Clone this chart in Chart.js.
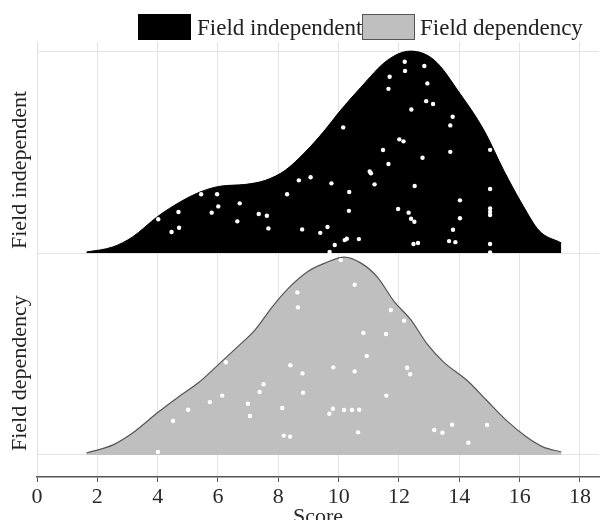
<!DOCTYPE html>
<html>
<head>
<meta charset="utf-8">
<script src="https://cdn.jsdelivr.net/npm/chart.js@4.4.1/dist/chart.umd.min.js"></script>
<style>
    html, body { margin: 0; padding: 0; background: #fff; overflow: hidden; }
    #wrap { width: 603px; height: 520px; position: relative; }
</style>
</head>
<body>
<div id="wrap"><canvas id="ridgeCanvas"></canvas></div>
<script>
// Groups, bottom to top (row index = y base)
const groups = ['Field dependency', 'Field independent'];
const xTicks = [0, 2, 4, 6, 8, 10, 12, 14, 16, 18];

// Density outline - Field independent (height relative to its row)
const indepDensX = [1.64, 2.51, 3.17, 3.99, 4.71, 5.37, 6.03, 6.92, 7.57, 8.23, 8.89, 9.55, 9.97, 10.73, 11.62, 12.38, 13.17, 14.02, 14.81, 15.47, 16.13, 16.65, 17.38];
const indepDensH = [0.005, 0.03, 0.08, 0.18, 0.25, 0.30, 0.33, 0.34, 0.36, 0.41, 0.50, 0.61, 0.69, 0.82, 0.955, 1.0, 0.955, 0.79, 0.61, 0.41, 0.23, 0.11, 0.05];

// Density outline - Field dependency
const depDensX = [1.64, 2.52, 3.18, 4.00, 4.71, 5.37, 6.03, 6.68, 7.23, 7.78, 8.33, 8.99, 9.54, 10.19, 10.74, 11.29, 11.84, 12.39, 12.93, 13.48, 14.25, 14.91, 15.57, 16.22, 16.77, 17.38];
const depDensH = [0.01, 0.05, 0.11, 0.21, 0.29, 0.36, 0.45, 0.54, 0.62, 0.73, 0.825, 0.91, 0.95, 0.98, 0.95, 0.88, 0.76, 0.67, 0.55, 0.46, 0.37, 0.27, 0.17, 0.09, 0.04, 0.015];

// Individual scores (x) with their jitter height inside the row (y)
const indepScoreX = [4.02, 4.46, 4.69, 4.71, 5.44, 5.79, 5.97, 6.01, 6.64, 6.72, 7.35, 7.62, 7.67, 8.29, 8.68, 8.79, 9.07, 9.39, 9.63, 9.76, 9.87, 9.70,
    12.19, 12.20, 12.84, 11.69, 12.94, 11.65, 12.90, 13.13, 12.41, 13.78, 13.70, 10.15, 12.01, 12.15, 11.47, 13.70, 15.02, 12.78, 11.65, 11.03, 11.07,
    11.19, 12.52, 15.02, 10.35, 14.02, 15.02, 15.02, 15.02, 10.34, 11.97, 12.32, 12.40, 12.51, 14.02, 13.79, 10.20, 10.27, 10.67, 12.48, 12.63, 13.66,
    13.87, 15.02, 15.02];
const indepScoreY = [0.167, 0.104, 0.203, 0.125, 0.291, 0.200, 0.291, 0.231, 0.157, 0.246, 0.193, 0.185, 0.122, 0.291, 0.360, 0.117, 0.375, 0.100, 0.129, 0.345, 0.040, 0.005,
    0.947, 0.902, 0.926, 0.873, 0.840, 0.813, 0.752, 0.738, 0.711, 0.675, 0.632, 0.622, 0.563, 0.553, 0.510, 0.501, 0.511, 0.472, 0.441, 0.404, 0.395,
    0.340, 0.332, 0.317, 0.302, 0.261, 0.221, 0.204, 0.188, 0.209, 0.218, 0.200, 0.170, 0.155, 0.172, 0.115, 0.064, 0.071, 0.069, 0.045, 0.050, 0.059,
    0.054, 0.045, 0.003];

const depScoreX = [8.63, 8.65, 6.26, 8.40, 9.82, 8.80, 7.51, 7.38, 8.82, 6.14, 5.73, 6.99, 5.01, 8.13, 7.06, 9.81, 9.69, 4.51, 8.18, 8.39, 4.01,
    10.07, 10.53, 11.73, 12.17, 10.82, 11.57, 10.93, 10.53, 12.27, 12.37, 11.58, 10.18, 10.44, 10.68, 10.64, 13.17, 13.44, 13.76, 14.92, 14.30];
const depScoreY = [0.805, 0.731, 0.459, 0.444, 0.434, 0.404, 0.350, 0.312, 0.308, 0.294, 0.262, 0.254, 0.224, 0.233, 0.193, 0.229, 0.204, 0.168, 0.096, 0.091, 0.015,
    0.965, 0.843, 0.718, 0.665, 0.604, 0.599, 0.490, 0.414, 0.432, 0.400, 0.294, 0.223, 0.223, 0.224, 0.112, 0.124, 0.110, 0.150, 0.149, 0.061];

const SERIF = "'Liberation Serif', 'Times New Roman', serif";

function toPoints(xs, ys, base) {
    return xs.map((x, i) => ({ x: x, y: base + ys[i] }));
}

// Legend drawn by hand so the box/text spacing matches the original
const legendPlugin = {
    id: 'ridgeLegend',
    afterDraw(chart) {
        const ctx = chart.ctx;
        ctx.save();
        ctx.font = '23px ' + SERIF;
        ctx.textBaseline = 'alphabetic';
        ctx.textAlign = 'left';
        ctx.lineWidth = 1;

        ctx.fillStyle = '#000';
        ctx.fillRect(138, 14, 53, 26);
        ctx.fillStyle = '#222';
        ctx.fillText(groups[1], 197, 35);

        ctx.fillStyle = '#bfbfbf';
        ctx.fillRect(362.5, 14.5, 52, 25);
        ctx.strokeStyle = '#555';
        ctx.strokeRect(362.5, 14.5, 52, 25);
        ctx.fillStyle = '#222';
        ctx.fillText(groups[0], 420, 35);
        ctx.restore();
    }
};

// Rotated group names, ending at each ridge baseline
const groupLabelPlugin = {
    id: 'groupLabels',
    afterDraw(chart) {
        const ctx = chart.ctx;
        const yScale = chart.scales.y;
        ctx.save();
        ctx.font = '22px ' + SERIF;
        ctx.fillStyle = '#222';
        ctx.textAlign = 'left';
        ctx.textBaseline = 'middle';
        groups.forEach((name, i) => {
            const py = yScale.getPixelForValue(i);
            ctx.save();
            ctx.translate(20, py - 4);
            ctx.rotate(-Math.PI / 2);
            ctx.fillText(name, 0, 0);
            ctx.restore();
        });
        ctx.restore();
    }
};

const ridgeChart = new Chart(document.getElementById('ridgeCanvas'), {
    type: 'scatter',
    data: {
        datasets: [
            {
                label: groups[1] + ' scores',
                data: toPoints(indepScoreX, indepScoreY, 1),
                pointRadius: 2.2,
                pointBackgroundColor: '#fff',
                pointBorderWidth: 0,
                order: 0
            },
            {
                label: groups[0] + ' scores',
                data: toPoints(depScoreX, depScoreY, 0),
                pointRadius: 2.2,
                pointBackgroundColor: '#fff',
                pointBorderWidth: 0,
                order: 0
            },
            {
                type: 'line',
                label: groups[1],
                data: toPoints(indepDensX, indepDensH, 1),
                borderColor: '#000',
                borderWidth: 1,
                backgroundColor: '#000',
                fill: { value: 1 },
                pointRadius: 0,
                cubicInterpolationMode: 'monotone',
                order: 1
            },
            {
                type: 'line',
                label: groups[0],
                data: toPoints(depDensX, depDensH, 0),
                borderColor: '#555',
                borderWidth: 1.2,
                backgroundColor: '#bfbfbf',
                fill: { value: 0 },
                pointRadius: 0,
                cubicInterpolationMode: 'monotone',
                order: 1
            }
        ]
    },
    options: {
        responsive: true,
        maintainAspectRatio: false,
        animation: false,
        layout: { padding: { left: 37, right: 0, top: 42, bottom: 0 } },
        plugins: {
            legend: { display: false },
            tooltip: { enabled: false }
        },
        scales: {
            x: {
                type: 'linear',
                min: 0,
                max: 18.63,
                afterBuildTicks: (scale) => {
                    scale.ticks = xTicks.map(v => ({ value: v }));
                },
                afterFit: (scale) => { scale.height = 43; },
                ticks: {
                    font: { family: SERIF, size: 22 },
                    color: '#2a2a2a',
                    padding: 2,
                    maxRotation: 0
                },
                grid: {
                    color: '#e3e3e3',
                    lineWidth: 1,
                    tickColor: '#555',
                    tickLength: 5
                },
                border: { display: true, color: '#555', width: 1.5 },
                title: {
                    display: true,
                    text: 'Score',
                    font: { family: SERIF, size: 22, lineHeight: 1 },
                    color: '#2a2a2a',
                    padding: { top: 0, bottom: -8 }
                }
            },
            y: {
                type: 'linear',
                min: -0.109,
                max: 2.045,
                afterBuildTicks: (scale) => {
                    scale.ticks = [0, 1, 2].map(v => ({ value: v }));
                },
                ticks: { display: false },
                grid: { color: '#e3e3e3', lineWidth: 1, drawTicks: false },
                border: { display: false }
            }
        }
    },
    plugins: [legendPlugin, groupLabelPlugin]
});
</script>
</body>
</html>
